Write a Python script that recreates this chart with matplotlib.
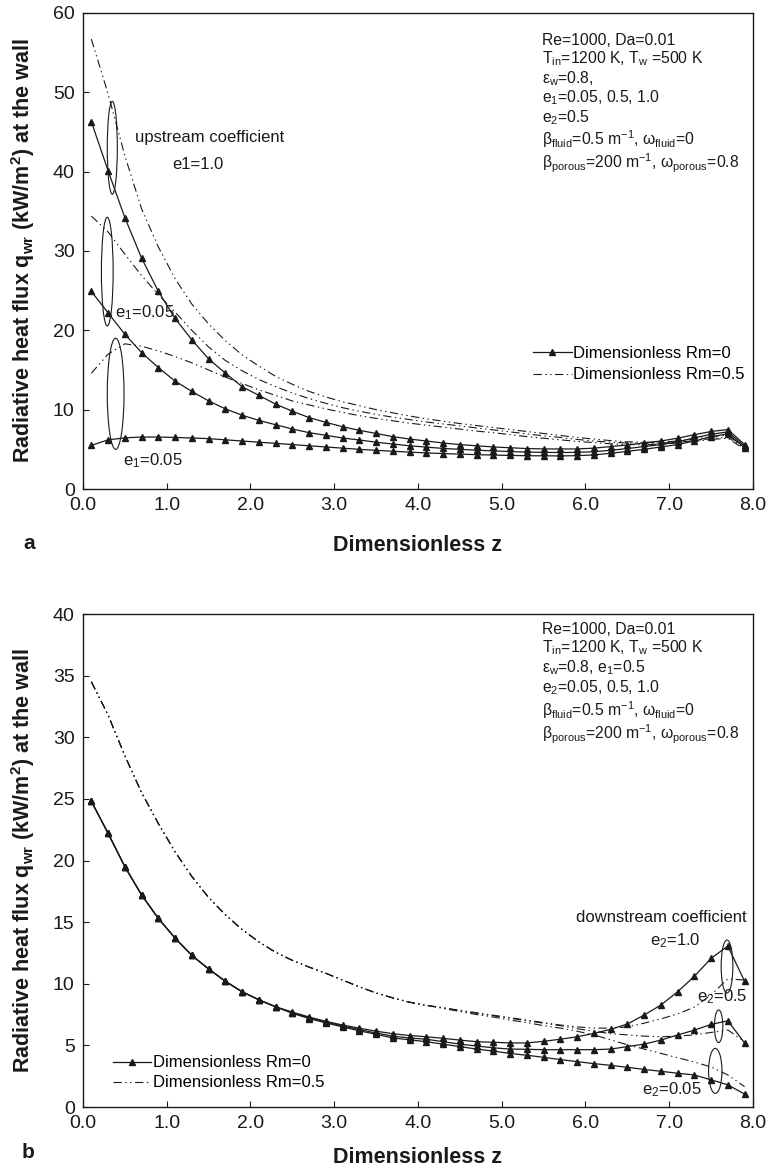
import numpy as np
import matplotlib
matplotlib.use("Agg")
import matplotlib.pyplot as plt
from matplotlib.patches import Ellipse

plt.rcParams['font.family'] = ['Liberation Sans', 'DejaVu Sans']
plt.rcParams['mathtext.fontset'] = 'custom'
plt.rcParams['mathtext.rm'] = 'Liberation Sans'
plt.rcParams['mathtext.it'] = 'Liberation Sans:italic'
plt.rcParams['mathtext.bf'] = 'Liberation Sans:bold'
plt.rcParams['lines.scale_dashes'] = False

# axial stations (dimensionless z)
z = [0.1, 0.3, 0.5, 0.7, 0.9, 1.1, 1.3, 1.5, 1.7, 1.9,
     2.1, 2.3, 2.5, 2.7, 2.9, 3.1, 3.3, 3.5, 3.7, 3.9,
     4.1, 4.3, 4.5, 4.7, 4.9, 5.1, 5.3, 5.5, 5.7, 5.9,
     6.1, 6.3, 6.5, 6.7, 6.9, 7.1, 7.3, 7.5, 7.7, 7.9]

# (a) varying upstream coefficient e1, e2 = 0.5
a_rm0_e1_10 = [46.3, 40.1, 34.2, 29.1, 24.9, 21.5, 18.8, 16.4, 14.6, 12.9,
               11.8, 10.7, 9.8, 9.0, 8.4, 7.85, 7.4, 7.0, 6.6, 6.3,
               6.05, 5.8, 5.6, 5.45, 5.3, 5.2, 5.1, 5.05, 5.05, 5.05,
               5.15, 5.35, 5.55, 5.8, 6.05, 6.4, 6.85, 7.25, 7.5, 5.6]
a_rm0_e1_05 = [24.9, 22.2, 19.5, 17.2, 15.3, 13.6, 12.3, 11.1, 10.1, 9.3,
               8.65, 8.1, 7.57, 7.1, 6.77, 6.43, 6.18, 5.9, 5.67, 5.45,
               5.28, 5.12, 5.0, 4.9, 4.8, 4.72, 4.66, 4.62, 4.6, 4.62,
               4.7, 4.88, 5.1, 5.35, 5.6, 5.95, 6.45, 6.9, 7.2, 5.4]
a_rm0_e1_005 = [5.5, 6.2, 6.45, 6.55, 6.55, 6.5, 6.43, 6.35, 6.2, 6.05,
                5.9, 5.76, 5.6, 5.45, 5.3, 5.15, 5.0, 4.88, 4.76, 4.65,
                4.55, 4.47, 4.4, 4.33, 4.28, 4.23, 4.2, 4.18, 4.18, 4.2,
                4.3, 4.5, 4.75, 5.0, 5.3, 5.6, 6.05, 6.6, 6.95, 5.2]
a_rm05_e1_10 = [56.7, 49.8, 42.0, 35.3, 30.5, 26.5, 23.3, 20.8, 18.7, 16.9,
                15.5, 14.2, 13.2, 12.3, 11.6, 11.0, 10.5, 10.0, 9.6, 9.2,
                8.85, 8.55, 8.25, 8.0, 7.75, 7.5, 7.25, 7.0, 6.75, 6.5,
                6.3, 6.1, 5.95, 5.9, 5.9, 6.05, 6.3, 6.6, 6.8, 5.2]
a_rm05_e1_05 = [34.4, 32.4, 29.6, 26.9, 24.5, 22.3, 20.0, 17.9, 16.2, 14.9,
                13.8, 12.9, 12.1, 11.4, 10.8, 10.25, 9.8, 9.4, 9.05, 8.75,
                8.45, 8.2, 7.95, 7.7, 7.45, 7.2, 6.95, 6.7, 6.5, 6.25,
                6.05, 5.9, 5.8, 5.75, 5.8, 5.9, 6.1, 6.35, 6.55, 5.1]
a_rm05_e1_005 = [14.6, 17.0, 18.3, 18.0, 17.4, 16.7, 15.9, 15.0, 14.1, 13.3,
                 12.5, 11.8, 11.1, 10.6, 10.1, 9.65, 9.25, 8.9, 8.6, 8.3,
                 8.05, 7.8, 7.55, 7.3, 7.1, 6.85, 6.6, 6.4, 6.2, 6.0,
                 5.85, 5.7, 5.6, 5.6, 5.65, 5.8, 6.0, 6.25, 6.4, 5.0]

# (b) varying downstream coefficient e2, e1 = 0.5
b_rm0_e2_10 = [24.8, 22.2, 19.5, 17.2, 15.3, 13.7, 12.3, 11.2, 10.2, 9.35,
               8.7, 8.13, 7.7, 7.3, 6.95, 6.65, 6.4, 6.15, 5.95, 5.8,
               5.7, 5.57, 5.43, 5.3, 5.25, 5.2, 5.2, 5.33, 5.5, 5.7,
               5.97, 6.3, 6.73, 7.46, 8.27, 9.35, 10.6, 12.06, 13.06, 10.2]
b_rm0_e2_05 = [24.8, 22.2, 19.5, 17.2, 15.3, 13.7, 12.3, 11.2, 10.2, 9.35,
               8.7, 8.13, 7.65, 7.24, 6.9, 6.58, 6.28, 6.0, 5.75, 5.6,
               5.5, 5.3, 5.1, 4.95, 4.8, 4.7, 4.68, 4.65, 4.65, 4.65,
               4.65, 4.7, 4.9, 5.1, 5.43, 5.84, 6.24, 6.7, 7.0, 5.2]
b_rm0_e2_005 = [24.8, 22.2, 19.5, 17.2, 15.3, 13.7, 12.3, 11.2, 10.2, 9.35,
                8.7, 8.13, 7.6, 7.18, 6.82, 6.5, 6.18, 5.9, 5.6, 5.45,
                5.3, 5.1, 4.9, 4.7, 4.54, 4.34, 4.2, 4.03, 3.85, 3.68,
                3.52, 3.38, 3.22, 3.05, 2.9, 2.74, 2.6, 2.2, 1.8, 1.05]
b_rm05_e2_10 = [34.5, 31.8, 28.5, 25.5, 23.0, 20.7, 18.7, 17.0, 15.6, 14.4,
                13.4, 12.55, 11.9, 11.35, 10.85, 10.3, 9.75, 9.25, 8.85, 8.5,
                8.25, 8.05, 7.85, 7.65, 7.45, 7.25, 7.05, 6.85, 6.65, 6.5,
                6.4, 6.4, 6.5, 6.8, 7.15, 7.55, 8.1, 9.1, 10.4, 10.3]
b_rm05_e2_05 = [34.5, 31.8, 28.5, 25.5, 23.0, 20.7, 18.7, 17.0, 15.6, 14.4,
                13.4, 12.55, 11.9, 11.35, 10.85, 10.3, 9.75, 9.25, 8.85, 8.5,
                8.25, 8.05, 7.8, 7.6, 7.4, 7.2, 7.0, 6.8, 6.6, 6.35,
                6.15, 5.95, 5.85, 5.75, 5.7, 5.75, 5.85, 6.05, 6.25, 5.3]
b_rm05_e2_005 = [34.5, 31.8, 28.5, 25.5, 23.0, 20.7, 18.7, 17.0, 15.6, 14.4,
                 13.4, 12.55, 11.9, 11.35, 10.85, 10.3, 9.75, 9.25, 8.85, 8.5,
                 8.25, 8.0, 7.75, 7.5, 7.3, 7.05, 6.85, 6.6, 6.4, 6.15,
                 5.85, 5.45, 5.05, 4.7, 4.35, 4.0, 3.65, 3.25, 2.6, 1.65]

info_a = ['Re=1000, Da=0.01',
          'T$_\\mathrm{in}$=1200 K, T$_\\mathrm{w}$ =500 K',
          'ε$_\\mathrm{w}$=0.8,',
          'e$_\\mathrm{1}$=0.05, 0.5, 1.0',
          'e$_\\mathrm{2}$=0.5',
          'β$_\\mathrm{fluid}$=0.5 m$^\\mathrm{-1}$, ω$_\\mathrm{fluid}$=0',
          'β$_\\mathrm{porous}$=200 m$^\\mathrm{-1}$, ω$_\\mathrm{porous}$=0.8']
info_b = ['Re=1000, Da=0.01',
          'T$_\\mathrm{in}$=1200 K, T$_\\mathrm{w}$ =500 K',
          'ε$_\\mathrm{w}$=0.8, e$_\\mathrm{1}$=0.5',
          'e$_\\mathrm{2}$=0.05, 0.5, 1.0',
          'β$_\\mathrm{fluid}$=0.5 m$^\\mathrm{-1}$, ω$_\\mathrm{fluid}$=0',
          'β$_\\mathrm{porous}$=200 m$^\\mathrm{-1}$, ω$_\\mathrm{porous}$=0.8']

ink = '#1a1a1a'
dashdotdot = (0, (6, 2.5, 1, 2.5, 1, 2.5))
solid_kw = dict(color=ink, lw=0.9, marker='^', ms=5, mfc=ink, mec=ink)
dash_kw = dict(color=ink, lw=0.8, linestyle=dashdotdot)

fig = plt.figure(figsize=(7.67, 11.66), dpi=100)
ax1 = fig.add_axes([0.1082, 0.5806, 0.8735, 0.4083])
ax2 = fig.add_axes([0.1082, 0.0506, 0.8735, 0.4228])

ylab = 'Radiative heat flux q$_\\mathbf{wr}$ (kW/m$^\\mathbf{2}$) at the wall'


def style_axes(ax, ymax, ystep, xlab_y):
    ax.set_xlim(0, 8)
    ax.set_ylim(0, ymax)
    ax.set_xticks(np.arange(0, 8.01, 1.0))
    ax.set_xticklabels(['%.1f' % v for v in np.arange(0, 8.01, 1.0)])
    ax.set_yticks(np.arange(0, ymax + 0.1, ystep))
    ax.tick_params(direction='in', length=4, width=0.8, labelsize=14,
                   pad=6, colors=ink)
    for s in ax.spines.values():
        s.set_linewidth(1.0)
        s.set_color(ink)
    ax.set_xlabel('Dimensionless z', fontsize=15.5, fontweight='bold', color=ink)
    ax.set_ylabel(ylab, fontsize=15.5, fontweight='bold', color=ink)
    ax.xaxis.set_label_coords(0.5, xlab_y)
    ax.yaxis.set_label_coords(-0.068, 0.5)


def info_block(ax, lines, y_top, spacing):
    # one multi-line text keeps the parameter list together
    ax.text(0.6846, y_top, '\n'.join(lines), transform=ax.transAxes,
            fontsize=11.3, va='top', ha='left', linespacing=spacing, color=ink)


# ---- panel a ----
for ys in (a_rm0_e1_10, a_rm0_e1_05, a_rm0_e1_005):
    ax1.plot(z, ys, **solid_kw)
for ys in (a_rm05_e1_10, a_rm05_e1_05, a_rm05_e1_005):
    ax1.plot(z, ys, **dash_kw)
style_axes(ax1, 60, 10, -0.096)

for cx, cy, w, h in [(0.35, 43.0, 0.12, 11.7), (0.29, 27.4, 0.14, 13.7),
                     (0.39, 12.0, 0.20, 14.0)]:
    ax1.add_patch(Ellipse((cx, cy), w, h, fill=False, lw=0.8, color=ink))
ax1.text(0.62, 44.3, 'upstream coefficient', fontsize=12, va='center', color=ink)
ax1.text(1.06, 40.9, 'e1=1.0', fontsize=12, va='center', color=ink)
ax1.text(0.38, 22.2, 'e$_1$=0.05', fontsize=12, va='center', color=ink)
ax1.text(0.48, 3.6, 'e$_1$=0.05', fontsize=12, va='center', color=ink)

info_block(ax1, info_a, 0.958, 1.08)

h0, = ax1.plot([], [], **solid_kw)
h1, = ax1.plot([], [], **dash_kw)
ax1.legend([h0, h1], ['Dimensionless Rm=0', 'Dimensionless Rm=0.5'],
           loc='center left', bbox_to_anchor=(0.672, 0.262), frameon=False,
           fontsize=12, borderpad=0, borderaxespad=0, handlelength=2.3,
           handletextpad=0.1, labelspacing=0.38, markerscale=0.8)

# ---- panel b ----
for ys in (b_rm0_e2_10, b_rm0_e2_05, b_rm0_e2_005):
    ax2.plot(z, ys, **solid_kw)
for ys in (b_rm05_e2_10, b_rm05_e2_05, b_rm05_e2_005):
    ax2.plot(z, ys, **dash_kw)
style_axes(ax2, 40, 5, -0.081)

for cx, cy, w, h in [(7.69, 11.4, 0.14, 4.3), (7.59, 6.55, 0.10, 2.65),
                     (7.55, 2.93, 0.16, 3.65)]:
    ax2.add_patch(Ellipse((cx, cy), w, h, fill=False, lw=0.8, color=ink))
ax2.text(7.93, 15.4, 'downstream coefficient', fontsize=12, ha='right',
         va='center', color=ink)
ax2.text(7.37, 13.5, 'e$_2$=1.0', fontsize=12, ha='right', va='center', color=ink)
ax2.text(7.93, 8.95, 'e$_2$=0.5', fontsize=12, ha='right', va='center', color=ink)
ax2.text(7.39, 1.4, 'e$_2$=0.05', fontsize=12, ha='right', va='center', color=ink)

info_block(ax2, info_b, 0.984, 1.1)

h0, = ax2.plot([], [], **solid_kw)
h1, = ax2.plot([], [], **dash_kw)
ax2.legend([h0, h1], ['Dimensionless Rm=0', 'Dimensionless Rm=0.5'],
           loc='center left', bbox_to_anchor=(0.045, 0.069), frameon=False,
           fontsize=12, borderpad=0, borderaxespad=0, handlelength=2.3,
           handletextpad=0.1, labelspacing=0.3, markerscale=0.8)

fig.text(23 / 767, 1 - 543 / 1166, 'a', fontsize=15, fontweight='bold',
         va='center', color=ink)
fig.text(22 / 767, 1 - 1153 / 1166, 'b', fontsize=15, fontweight='bold',
         va='center', color=ink)

fig.savefig('out.png', dpi=100)
